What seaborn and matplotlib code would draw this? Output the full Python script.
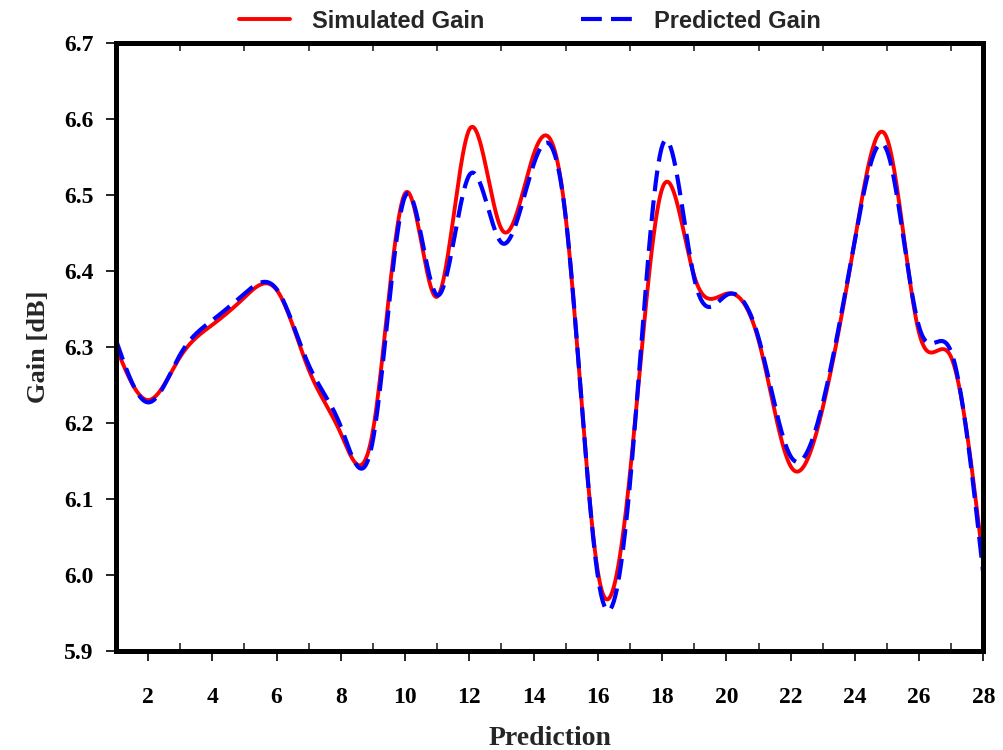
import numpy as np
import pandas as pd
import matplotlib
matplotlib.use("Agg")
import matplotlib.pyplot as plt
from matplotlib.ticker import MultipleLocator
import seaborn as sns

# Gain per prediction index
prediction = list(range(1, 29))
simulated_gain = [6.300, 6.230, 6.287, 6.329, 6.365, 6.375, 6.270, 6.186, 6.190, 6.502,
                  6.366, 6.586, 6.455, 6.553, 6.470, 6.004, 6.134, 6.508, 6.393, 6.370,
                  6.309, 6.143, 6.220, 6.441, 6.574, 6.318, 6.286, 6.014]
predicted_gain = [6.309, 6.227, 6.290, 6.335, 6.370, 6.376, 6.276, 6.195, 6.178, 6.498,
                  6.368, 6.526, 6.437, 6.540, 6.470, 5.998, 6.121, 6.564, 6.390, 6.368,
                  6.312, 6.156, 6.226, 6.441, 6.558, 6.326, 6.293, 6.000]
x_ticks = list(range(2, 29, 2))
y_ticks = [5.9, 6.0, 6.1, 6.2, 6.3, 6.4, 6.5, 6.6, 6.7]


def natural_spline(x, y, xs):
    """Natural cubic spline through (x, y), evaluated at xs."""
    x = np.asarray(x, float)
    y = np.asarray(y, float)
    n = len(x)
    h = np.diff(x)
    A = np.zeros((n, n))
    b = np.zeros(n)
    A[0, 0] = A[-1, -1] = 1.0
    for i in range(1, n - 1):
        A[i, i - 1] = h[i - 1]
        A[i, i] = 2 * (h[i - 1] + h[i])
        A[i, i + 1] = h[i]
        b[i] = 3 * ((y[i + 1] - y[i]) / h[i] - (y[i] - y[i - 1]) / h[i - 1])
    c = np.linalg.solve(A, b)
    bc = (y[1:] - y[:-1]) / h - h * (2 * c[:-1] + c[1:]) / 3
    d = (c[1:] - c[:-1]) / (3 * h)
    idx = np.clip(np.searchsorted(x, xs, side="right") - 1, 0, n - 2)
    dx = xs - x[idx]
    return y[:-1][idx] + bc[idx] * dx + c[idx] * dx ** 2 + d[idx] * dx ** 3


xs = np.linspace(prediction[0], prediction[-1], 1200)
curves = pd.DataFrame({
    "Prediction": np.concatenate([xs, xs]),
    "Gain": np.concatenate([natural_spline(prediction, simulated_gain, xs),
                            natural_spline(prediction, predicted_gain, xs)]),
    "Series": ["Simulated Gain"] * len(xs) + ["Predicted Gain"] * len(xs),
})

sns.set_theme(style="white")
plt.rcParams["font.family"] = ["Liberation Serif", "DejaVu Serif"]
plt.rcParams["font.weight"] = "bold"

fig = plt.figure(figsize=(10.04, 7.5), dpi=100)
ax = fig.add_axes([0.1155, 0.132, 0.864, 0.811])

sns.lineplot(data=curves[curves.Series == "Simulated Gain"], x="Prediction", y="Gain",
             color="#ff0000", linewidth=2.8, ax=ax, label="Simulated Gain")
sns.lineplot(data=curves[curves.Series == "Predicted Gain"], x="Prediction", y="Gain",
             color="#0000ff", linewidth=3.0, ax=ax, label="Predicted Gain",
             dashes=False)
ax.lines[1].set_dashes([5, 2.2])

ax.set_xlim(1, 28)
ax.set_ylim(5.9, 6.7)
ax.set_xticks(x_ticks)
ax.set_yticks(y_ticks)
ax.set_yticklabels([f"{v:.1f}" for v in y_ticks])
ax.xaxis.set_minor_locator(MultipleLocator(2, offset=1))

for side in ["left", "right", "top", "bottom"]:
    ax.spines[side].set_visible(True)
    ax.spines[side].set_linewidth(3.6)
    ax.spines[side].set_color("black")

ax.tick_params(axis="x", which="major", direction="out", length=7, width=1.2,
               bottom=True, top=False, pad=19, labelsize=17, colors="black")
ax.tick_params(axis="x", which="minor", direction="in", length=6, width=1.2,
               bottom=True, top=True)
ax.tick_params(axis="y", which="major", direction="out", length=7, width=1.2,
               left=True, right=False, pad=9, labelsize=17, colors="black")
for lab in ax.get_xticklabels() + ax.get_yticklabels():
    lab.set_fontweight("bold")

ax.set_xlabel("Prediction", fontsize=20, fontweight="bold", labelpad=13)
ax.set_ylabel("Gain [dB]", fontsize=19, fontweight="bold", labelpad=10)

leg = ax.legend(loc="lower center", bbox_to_anchor=(0.477, 1.005), ncol=2, frameon=False,
                handlelength=2.2, columnspacing=4.1, handletextpad=0.9,
                borderaxespad=0.1, borderpad=0.2,
                prop={"family": "Liberation Sans", "weight": "bold", "size": 17})

fig.savefig("out.png", dpi=100, facecolor="white")
